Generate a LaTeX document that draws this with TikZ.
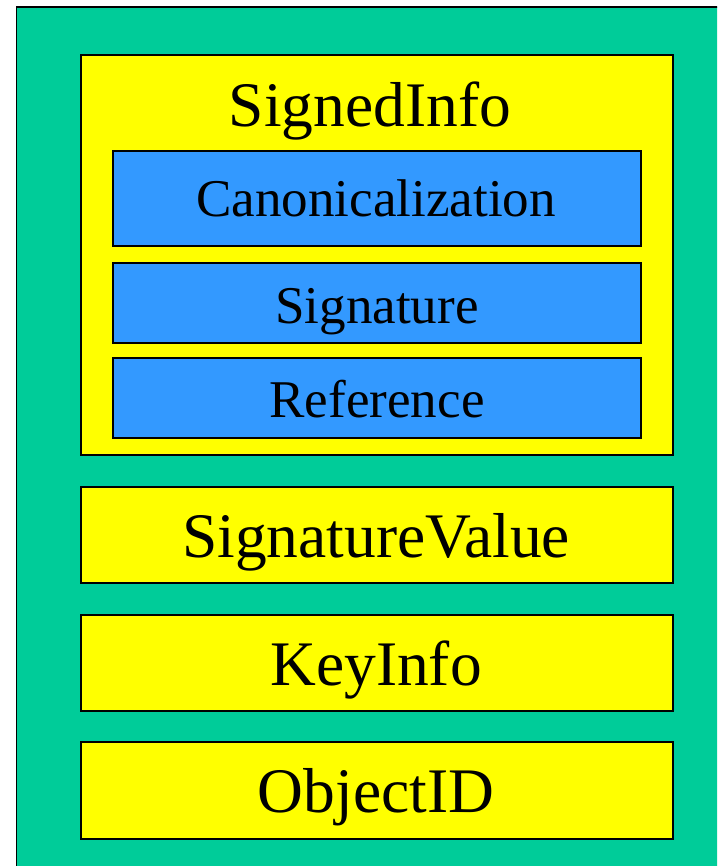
\documentclass[tikz,border=0pt]{standalone}
\usepackage{fontspec}
\setmainfont{Liberation Serif}
\usetikzlibrary{fit}
\definecolor{outergreen}{RGB}{0,204,153}
\definecolor{boxyellow}{RGB}{255,255,0}
\definecolor{boxblue}{RGB}{51,153,255}
\tikzset{
  frame/.style={draw=black, line width=1.2pt, inner sep=0pt, outer sep=0pt},
  ybox/.style={frame, fill=boxyellow},
  bbox/.style={frame, fill=boxblue},
  gbox/.style={frame, fill=outergreen},
  bigtxt/.style={anchor=base, inner sep=0pt, font=\fontsize{47.6}{50}\selectfont},
  smalltxt/.style={anchor=base, inner sep=0pt, font=\fontsize{39.8}{42}\selectfont}
}
\begin{document}
\begin{tikzpicture}[x=0.75pt, y=-0.75pt]
\clip (0,0) rectangle (717,866);
\useasboundingbox (0,0) rectangle (717,866);
\fill[white] (0,0) rectangle (717,866);
\node[gbox, fit={(16.5,7) (740,890)}] (outer) {};
\node[ybox, fit={(81,55) (673,455)}] (signedinfo) {};
\node[bbox, fit={(113,151) (641,246)}] (canon) {};
\node[bbox, fit={(113,263) (641,343)}] (sig) {};
\node[bbox, fit={(113,358) (641,438)}] (ref) {};
\node[ybox, fit={(81,487) (673,583)}] (sigval) {};
\node[ybox, fit={(81,615) (673,711)}] (keyinfo) {};
\node[ybox, fit={(81,742) (673,839)}] (objectid) {};
\node[bigtxt] (tsignedinfo) at (370,127) {SignedInfo};
\node[smalltxt] (tcanon) at (376,217) {Canonicalization};
\node[smalltxt] (tsig) at (377,323) {Signature};
\node[smalltxt] (tref) at (377,417) {Reference};
\node[bigtxt] (tsigval) at (376,557) {SignatureValue};
\node[bigtxt] (tkeyinfo) at (376,685) {KeyInfo};
\node[bigtxt] (tobjectid) at (376,812) {ObjectID};
\end{tikzpicture}
\end{document}
